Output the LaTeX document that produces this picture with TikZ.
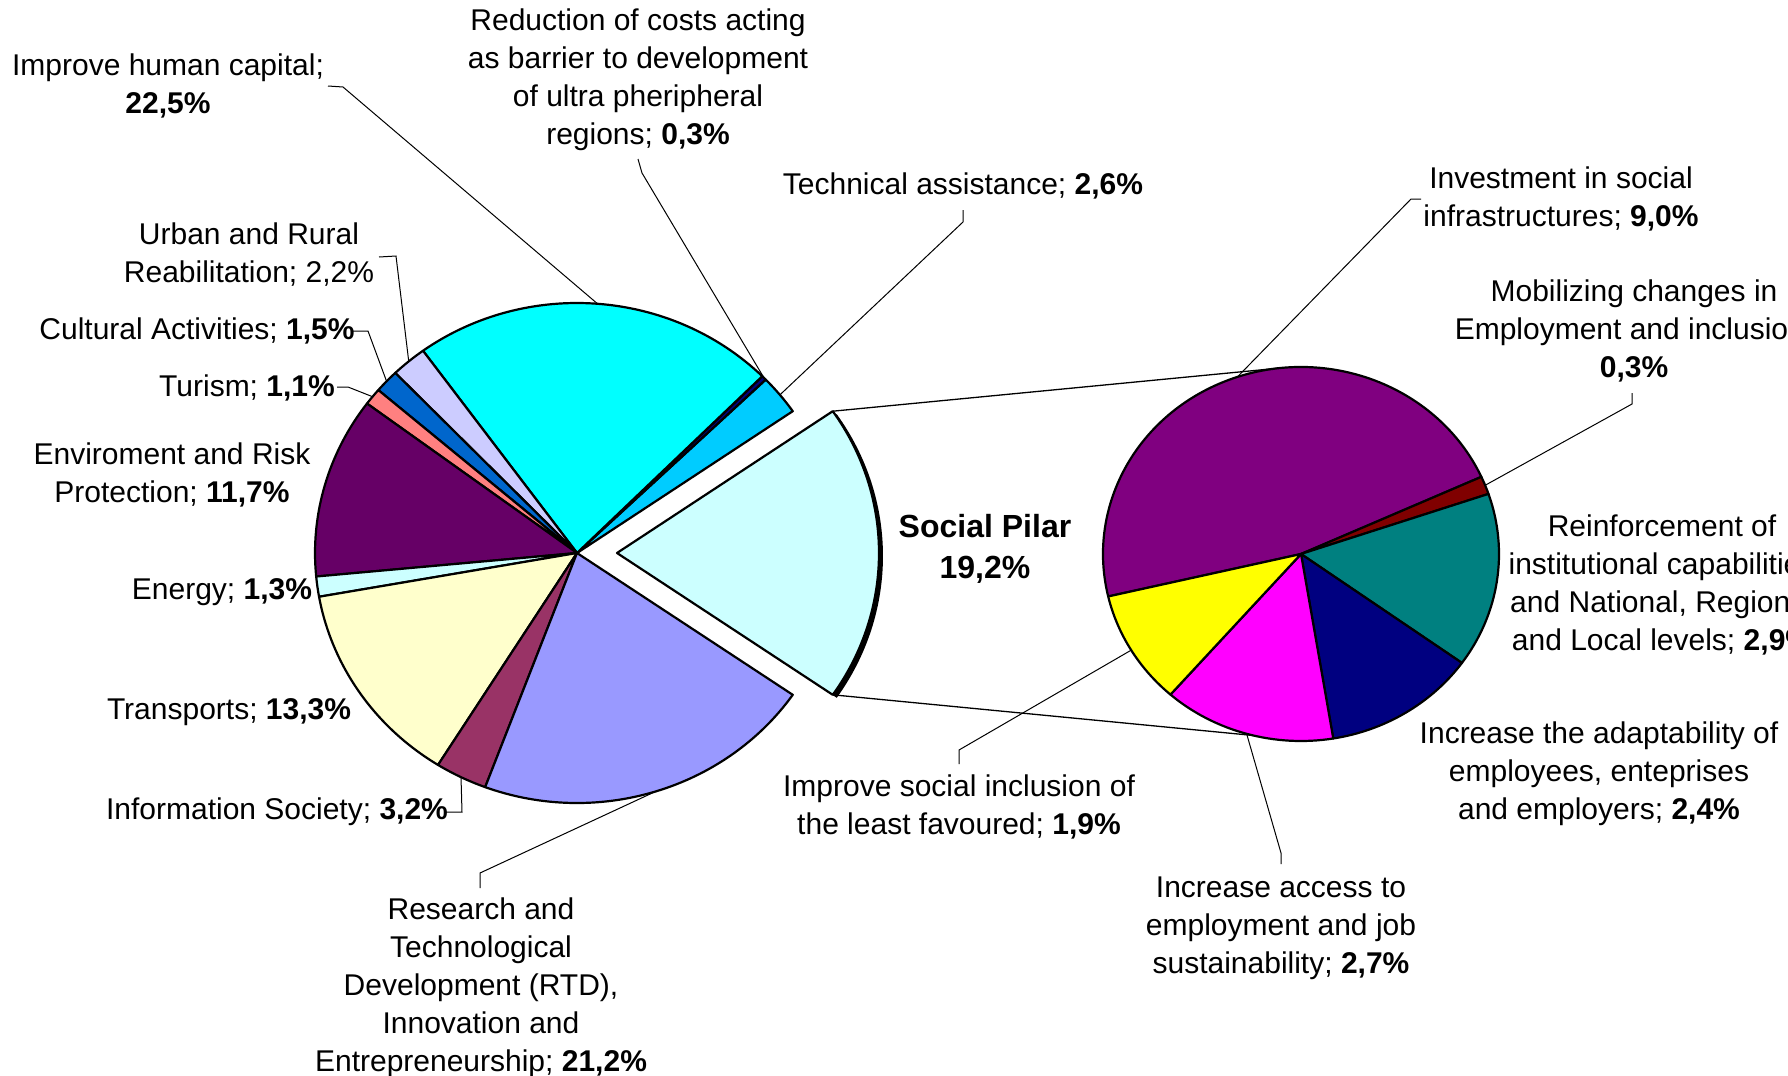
\documentclass[tikz,border=0pt]{standalone}
\usepackage{fontspec}
\setmainfont{Liberation Sans}
\definecolor{cTA}{HTML}{00CCFF}
\definecolor{cRED}{HTML}{000080}
\definecolor{cHC}{HTML}{00FFFF}
\definecolor{cURB}{HTML}{CCCCFF}
\definecolor{cCUL}{HTML}{0066CC}
\definecolor{cTUR}{HTML}{FF8080}
\definecolor{cENV}{HTML}{660066}
\definecolor{cENE}{HTML}{CCFFFF}
\definecolor{cTRA}{HTML}{FFFFCC}
\definecolor{cINF}{HTML}{993366}
\definecolor{cRTD}{HTML}{9999FF}
\definecolor{cSOC}{HTML}{CCFFFF}
\definecolor{cINV}{HTML}{800080}
\definecolor{cMOB}{HTML}{800000}
\definecolor{cREI}{HTML}{008080}
\definecolor{cADA}{HTML}{000080}
\definecolor{cACC}{HTML}{FF00FF}
\definecolor{cINC}{HTML}{FFFF00}
\newcommand{\lslice}[3]{\filldraw[pie,fill=#3] (L) -- ++(#1:262 and 250) arc[start angle=#1,end angle=#2,x radius=262,y radius=250] -- cycle;}
\newcommand{\rslice}[3]{\filldraw[pie,fill=#3] (R) -- ++(#1:198 and 187) arc[start angle=#1,end angle=#2,x radius=198,y radius=187] -- cycle;}
\begin{document}
\begin{tikzpicture}[x=1pt,y=-1pt,
  pie/.style={draw=black,line width=2.2pt,line join=round},
  lead/.style={draw=black,line width=1pt},
  series/.style={draw=black,line width=1.3pt},
  lbl/.style={align=center,inner sep=0pt,font=\fontsize{30}{38}\selectfont}]
\useasboundingbox (0,0) rectangle (1788,1076);
\clip (0,0) rectangle (1788,1076);
\fill[white] (0,0) rectangle (1788,1076);
\coordinate (L) at (577,553);
\coordinate (S) at (617,553);
\coordinate (Sh) at (621,556);
\coordinate (R) at (1301,554);
% series lines between the pies
\path (S) ++(-34.56:262 and 250) coordinate (sTop);
\path (S) ++(34.56:262 and 250) coordinate (sBot);
\path (R) ++(-96:198 and 187) coordinate (rTop);
\path (R) ++(104:198 and 187) coordinate (rBot);
\draw[series] (sTop) -- (rTop);
\draw[series] (sBot) -- (rBot);
% left pie
\lslice{-34.56}{-43.92}{cTA}
\lslice{-43.92}{-45}{cRED}
\lslice{-45}{-126}{cHC}
\lslice{-126}{-133.92}{cURB}
\lslice{-133.92}{-139.32}{cCUL}
\lslice{-139.32}{-143.28}{cTUR}
\lslice{-143.28}{-185.4}{cENV}
\lslice{-185.4}{-190.08}{cENE}
\lslice{-190.08}{-237.96}{cTRA}
\lslice{-237.96}{-249.48}{cINF}
\lslice{-249.48}{-325.44}{cRTD}
% exploded social slice with shadow
\fill[black] (Sh) -- ++(-34.56:262 and 250) arc[start angle=-34.56,end angle=34.56,x radius=262,y radius=250] -- cycle;
\filldraw[pie,fill=cSOC] (S) -- ++(-34.56:262 and 250) arc[start angle=-34.56,end angle=34.56,x radius=262,y radius=250] -- cycle;
% right pie
\rslice{-24.375}{-193.125}{cINV}
\rslice{-18.75}{-24.375}{cMOB}
\rslice{35.625}{-18.75}{cREI}
\rslice{80.625}{35.625}{cADA}
\rslice{131.25}{80.625}{cACC}
\rslice{166.875}{131.25}{cINC}
% labels
\node[lbl] (hc) at (168,86) {Improve human capital;\\\textbf{22,5\%}};
\node[lbl] (red) at (638,80) {Reduction of costs acting\\as barrier to development\\of ultra pheripheral\\regions; \textbf{0,3\%}};
\node[lbl] (ta) at (963,186) {Technical assistance; \textbf{2,6\%}};
\node[lbl] (urb) at (249,255) {Urban and Rural\\Reabilitation; 2,2\%};
\node[lbl] (cul) at (197,331) {Cultural Activities; \textbf{1,5\%}};
\node[lbl] (tur) at (247,388) {Turism; \textbf{1,1\%}};
\node[lbl] (env) at (172,475) {Enviroment and Risk\\Protection; \textbf{11,7\%}};
\node[lbl] (ene) at (222,592) {Energy; \textbf{1,3\%}};
\node[lbl] (tra) at (229,712) {Transports; \textbf{13,3\%}};
\node[lbl] (inf) at (277,812) {Information Society; \textbf{3,2\%}};
\node[lbl] (rtd) at (481,988) {Research and\\Technological\\Development (RTD),\\Innovation and\\Entrepreneurship; \textbf{21,2\%}};
\node[lbl,font=\fontsize{32}{41}\selectfont\bfseries] (soc) at (985,549) {Social Pilar\\19,2\%};
\node[lbl] (inv) at (1561,199) {Investment in social\\infrastructures; \textbf{9,0\%}};
\node[lbl] (mob) at (1634,331) {Mobilizing changes in\\Employment and inclusion;\\\textbf{0,3\%}};
\node[lbl] (rei) at (1662,585) {Reinforcement of\\institutional capabilities\\and National, Regional\\and Local levels; \textbf{2,9\%}};
\node[lbl] (ada) at (1599,774) {Increase the adaptability of\\employees, enteprises\\and employers; \textbf{2,4\%}};
\node[lbl] (acc) at (1281,928) {Increase access to\\employment and job\\sustainability; \textbf{2,7\%}};
\node[lbl] (inc) at (959,807) {Improve social inclusion of\\the least favoured; \textbf{1,9\%}};
% leader lines
\path (L) ++(-85.5:262 and 250) coordinate (phc);
\coordinate (hcA) at (328,86); \coordinate (hcB) at (343,87);
\draw[lead] (hcA) -- (hcB) -- (phc);
\path (L) ++(-44.46:262 and 250) coordinate (pred);
\coordinate (redA) at (638,159); \coordinate (redB) at (642,173);
\draw[lead] (redA) -- (redB) -- (pred);
\path (L) ++(-39.24:262 and 250) coordinate (pta);
\coordinate (taA) at (963,210); \coordinate (taB) at (963,222);
\draw[lead] (taA) -- (taB) -- (pta);
\path (L) ++(-129.96:262 and 250) coordinate (purb);
\coordinate (urbA) at (379,257); \coordinate (urbB) at (396,256);
\draw[lead] (urbA) -- (urbB) -- (purb);
\path (L) ++(-136.62:262 and 250) coordinate (pcul);
\coordinate (culA) at (353,331); \coordinate (culB) at (368,331);
\draw[lead] (culA) -- (culB) -- (pcul);
\path (L) ++(-141.3:262 and 250) coordinate (ptur);
\coordinate (turA) at (337,387); \coordinate (turB) at (348,387);
\draw[lead] (turA) -- (turB) -- (ptur);
\path (L) ++(-243.72:262 and 250) coordinate (pinf);
\coordinate (infA) at (446,812); \coordinate (infB) at (462,812);
\draw[lead] (infA) -- (infB) -- (pinf);
\path (L) ++(-287.46:262 and 250) coordinate (prtd);
\coordinate (rtdA) at (480,888); \coordinate (rtdB) at (480,873);
\draw[lead] (rtdA) -- (rtdB) -- (prtd);
\path (R) ++(-108.75:198 and 187) coordinate (pinv);
\coordinate (invA) at (1421,199); \coordinate (invB) at (1411,199);
\draw[lead] (invA) -- (invB) -- (pinv);
\path (R) ++(-21.56:198 and 187) coordinate (pmob);
\coordinate (mobA) at (1632,393); \coordinate (mobB) at (1632,404);
\draw[lead] (mobA) -- (mobB) -- (pmob);
\path (R) ++(105.94:198 and 187) coordinate (pacc);
\coordinate (accA) at (1281,864); \coordinate (accB) at (1281,853);
\draw[lead] (accA) -- (accB) -- (pacc);
\path (R) ++(149.06:198 and 187) coordinate (pinc);
\coordinate (incA) at (959,764); \coordinate (incB) at (959,750);
\draw[lead] (incA) -- (incB) -- (pinc);
\end{tikzpicture}
\end{document}
